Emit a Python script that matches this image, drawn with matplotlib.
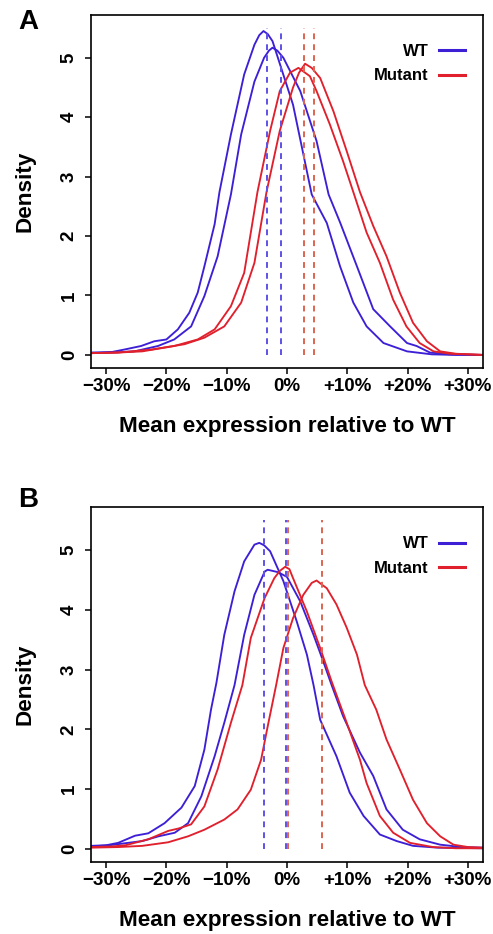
import matplotlib
matplotlib.use('Agg')
import matplotlib.pyplot as plt
from matplotlib.lines import Line2D

plt.rcParams['font.family'] = ['Liberation Sans', 'DejaVu Sans']
plt.rcParams['font.weight'] = 'bold'
plt.rcParams['axes.unicode_minus'] = True

# x values are mean expression relative to WT (in %), y values are density
# ---- panel A ----
a_wt1_x = [-32.5, -29, -27, -24.2, -22, -20, -18.1, -16.2, -14.8, -13.7, -12, -11.2, -9.3, -7.1, -5.4, -4.6,
           -3.9, -3.2, -2.4, -1.7, 1.0, 4.1, 6.6, 8.8, 11.0, 13.2, 16.0, 19.9, 24.0, 28.0, 32.5]
a_wt1_y = [0.04, 0.05, 0.09, 0.15, 0.23, 0.26, 0.43, 0.71, 1.05, 1.49, 2.2, 2.74, 3.71, 4.72, 5.22, 5.38,
           5.45, 5.4, 5.28, 5.06, 4.21, 2.70, 2.22, 1.49, 0.88, 0.48, 0.20, 0.06, 0.01, 0.0, 0.0]
a_wt2_x = [-32.5, -29, -25.3, -21.4, -18.7, -15.9, -13.7, -11.5, -9.3, -7.6, -5.4, -3.8, -3.0, -2.4, -1.6,
           -0.6, 2.2, 4.9, 6.9, 8.8, 11.6, 14.3, 17.1, 19.9, 21.5, 23.7, 27, 32.5]
a_wt2_y = [0.03, 0.04, 0.06, 0.15, 0.26, 0.48, 0.99, 1.66, 2.7, 3.71, 4.6, 5.0, 5.12, 5.17, 5.12,
           5.0, 4.44, 3.6, 2.7, 2.23, 1.49, 0.77, 0.48, 0.2, 0.15, 0.04, 0.01, 0.0]
a_mut1_x = [-32.5, -28, -24, -18.7, -14.8, -12, -9.3, -7.1, -4.9, -2.8, -1.2, 0.5, 1.9, 3.8, 4.9, 7.1, 9.3,
            11.0, 13.2, 15.4, 17.6, 19.8, 22.0, 24.3, 27, 32.5]
a_mut1_y = [0.03, 0.04, 0.06, 0.15, 0.26, 0.43, 0.82, 1.38, 2.74, 3.77, 4.44, 4.75, 4.83, 4.69, 4.44, 3.88, 3.26,
            2.74, 2.06, 1.55, 0.93, 0.48, 0.2, 0.06, 0.02, 0.0]
a_mut2_x = [-32.5, -28, -22.5, -17, -13.7, -10.4, -7.6, -5.4, -3.4, -1.2, 1.0, 2.0, 3.0, 4.1, 5.5, 7.7, 9.9,
            12.1, 14.3, 16.5, 18.7, 20.9, 23.2, 25.4, 28, 32.5]
a_mut2_y = [0.03, 0.04, 0.09, 0.18, 0.29, 0.48, 0.88, 1.55, 2.74, 3.77, 4.5, 4.75, 4.9, 4.83, 4.66, 4.1, 3.43,
            2.74, 2.17, 1.66, 1.05, 0.54, 0.23, 0.06, 0.02, 0.0]
a_wt_means = [-3.3, -1.05]
a_mut_means = [2.9, 4.4]

# ---- panel B ----
b_wt1_x = [-32.5, -30, -28, -25.2, -23, -20.3, -17.5, -15.3, -13.7, -12.6, -11.7, -10.4, -8.7, -7.1, -5.4, -4.6,
           -3.8, -2.8, -0.6, 1.6, 3.3, 4.4, 5.5, 8.2, 10.4, 12.7, 15.4, 18.2, 20.9, 25, 32.5]
b_wt1_y = [0.05, 0.06, 0.1, 0.22, 0.26, 0.43, 0.69, 1.05, 1.66, 2.33, 2.78, 3.58, 4.31, 4.81, 5.09, 5.12,
           5.08, 4.98, 4.48, 3.81, 3.25, 2.74, 2.16, 1.55, 0.94, 0.55, 0.24, 0.13, 0.05, 0.02, 0.01]
b_wt2_x = [-32.5, -29.5, -24, -21.3, -18.6, -16.4, -14.2, -12.0, -10.4, -8.7, -7.1, -5.4, -3.7, -3.2, -1.5, 0.0,
           2.2, 4.4, 6.0, 7.4, 9.3, 12.1, 14.3, 16.5, 19.2, 22.0, 25.4, 29, 32.5]
b_wt2_y = [0.04, 0.06, 0.13, 0.21, 0.27, 0.43, 0.88, 1.55, 2.11, 2.74, 3.58, 4.25, 4.64, 4.67, 4.63, 4.55,
           4.14, 3.58, 3.14, 2.74, 2.22, 1.61, 1.22, 0.66, 0.32, 0.16, 0.07, 0.03, 0.02]
b_mut1_x = [-32.5, -29, -26.8, -23, -19.7, -18, -15.9, -13.7, -11.5, -9.3, -7.4, -6.0, -3.7, -2.1, -1.2, -0.3,
            0.4, 1.0, 3.3, 5.5, 7.4, 9.9, 12.1, 13.2, 15.4, 17.6, 20.4, 24.2, 28, 32.5]
b_mut1_y = [0.03, 0.04, 0.06, 0.16, 0.3, 0.34, 0.41, 0.71, 1.33, 2.11, 2.74, 3.53, 4.2, 4.53, 4.65, 4.72,
            4.68, 4.53, 3.97, 3.36, 2.8, 2.11, 1.49, 1.1, 0.55, 0.27, 0.1, 0.03, 0.01, 0.01]
b_mut2_x = [-32.5, -28, -24, -19.7, -16.4, -13.7, -10.4, -8.2, -6.0, -4.3, -3.2, -1.8, -0.6, 1.0, 2.7, 4.1, 4.9,
            6.6, 8.2, 9.9, 11.6, 12.9, 14.8, 16.5, 18.7, 20.9, 23.2, 25.4, 27.6, 30, 32.5]
b_mut2_y = [0.02, 0.03, 0.05, 0.11, 0.21, 0.32, 0.49, 0.66, 0.99, 1.49, 2.05, 2.74, 3.36, 3.86, 4.25, 4.45, 4.49,
            4.36, 4.09, 3.7, 3.25, 2.74, 2.33, 1.83, 1.33, 0.82, 0.43, 0.21, 0.07, 0.03, 0.02]
b_wt_means = [-3.75, -0.2]
b_mut_means = [0.15, 5.75]

x_ticks = [-30, -20, -10, 0, 10, 20, 30]
x_tick_labels = ['\u221230%', '\u221220%', '\u221210%', '0%', '+10%', '+20%', '+30%']
y_ticks = [0, 1, 2, 3, 4, 5]
mean_top = 5.5

blue = '#3d1fd6'
red = '#e0202c'
blue_dash = '#5e52e6'
red_dash = '#dd6450'


def draw_panel(ax, wt_curves, mut_curves, wt_means, mut_means):
    for x, y in wt_curves:
        ax.plot(x, y, color=blue, lw=1.35, solid_joinstyle='round')
    for x, y in mut_curves:
        ax.plot(x, y, color=red, lw=1.35, solid_joinstyle='round')
    ax.vlines(wt_means, 0, mean_top, colors=blue_dash, linestyles=(0, (3, 2.6)), lw=1.4)
    ax.vlines(mut_means, 0, mean_top, colors=red_dash, linestyles=(0, (3, 2.6)), lw=1.4)

    ax.set_xlim(-32.5, 32.5)
    ax.set_ylim(-0.22, 5.72)
    ax.set_xticks(x_ticks)
    ax.set_xticklabels(x_tick_labels)
    ax.set_yticks(y_ticks)
    ax.tick_params(axis='both', labelsize=13.5, length=4.5, width=1.1, direction='out')
    ax.tick_params(axis='x', pad=3)
    ax.tick_params(axis='y', labelrotation=90, pad=5)
    for lab in ax.get_yticklabels():
        lab.set_va('center')
    for s in ax.spines.values():
        s.set_linewidth(1.2)

    ax.set_xlabel('Mean expression relative to WT', fontsize=16.2, fontweight='bold')
    ax.xaxis.set_label_coords(0.5, -0.165)
    ax.xaxis.label.set_va('center')
    ax.set_ylabel('Density', fontsize=16.2, fontweight='bold')
    ax.yaxis.set_label_coords(-0.168, 0.5)
    ax.yaxis.label.set_va('center')

    handles = [Line2D([], [], color=blue, lw=2.2), Line2D([], [], color=red, lw=2.2)]
    ax.legend(handles, ['WT', 'Mutant'], loc='upper right', bbox_to_anchor=(0.97, 0.936),
              frameon=False, markerfirst=False, handlelength=1.55, handletextpad=0.6,
              labelspacing=0.55, prop={'size': 12, 'weight': 'bold'}, borderaxespad=0)


fig = plt.figure(figsize=(4.93, 9.34), dpi=100)
ax_a = fig.add_axes([91 / 493, 1 - 368 / 934, 392 / 493, 353 / 934])
ax_b = fig.add_axes([91 / 493, 1 - 862 / 934, 392 / 493, 355 / 934])

draw_panel(ax_a, [(a_wt1_x, a_wt1_y), (a_wt2_x, a_wt2_y)],
           [(a_mut1_x, a_mut1_y), (a_mut2_x, a_mut2_y)], a_wt_means, a_mut_means)
draw_panel(ax_b, [(b_wt1_x, b_wt1_y), (b_wt2_x, b_wt2_y)],
           [(b_mut1_x, b_mut1_y), (b_mut2_x, b_mut2_y)], b_wt_means, b_mut_means)

fig.text(28 / 493, 1 - 22 / 934, 'A', fontsize=20, fontweight='bold', ha='center', va='center')
fig.text(28 / 493, 1 - 500 / 934, 'B', fontsize=20, fontweight='bold', ha='center', va='center')

fig.savefig('out.png', dpi=100)
